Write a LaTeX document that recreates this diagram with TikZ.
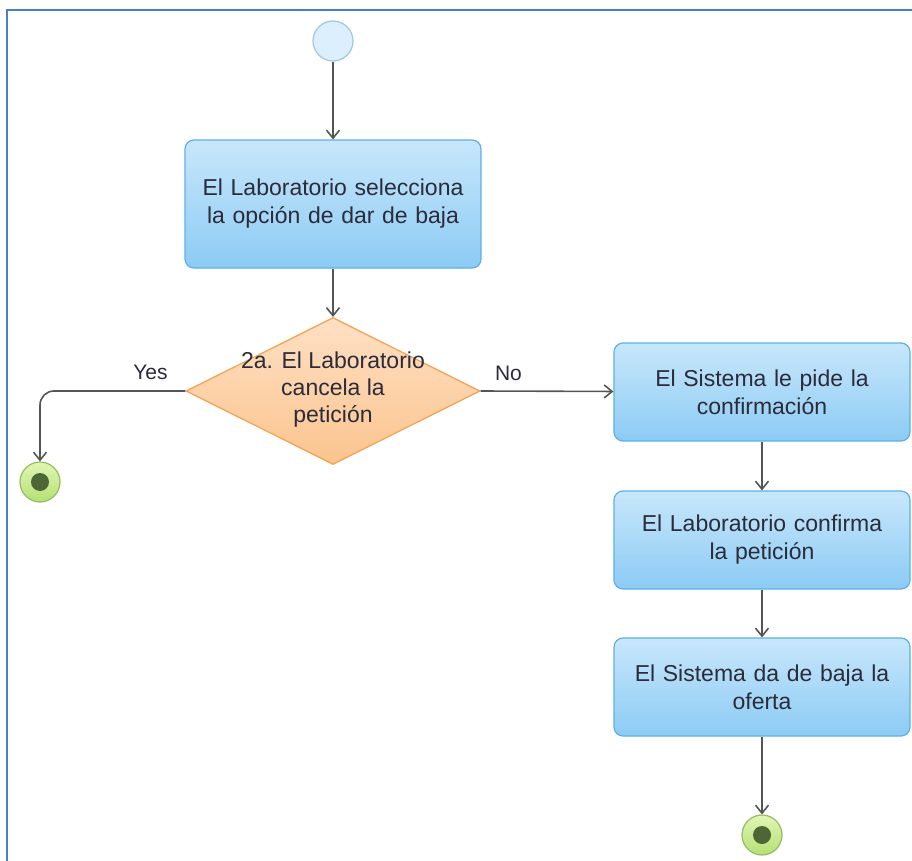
\documentclass[tikz,border=0pt]{standalone}
\usepackage{fontspec}
\setmainfont{Liberation Sans}
\usetikzlibrary{shapes.geometric,arrows.meta}
\definecolor{boxtop}{HTML}{C8E7FB}
\definecolor{boxbot}{HTML}{8CCBF4}
\definecolor{boxline}{HTML}{5CB0E8}
\definecolor{dectop}{HTML}{FEE0C4}
\definecolor{decbot}{HTML}{FBC48E}
\definecolor{decline}{HTML}{F4A04E}
\definecolor{startfill}{HTML}{DCEFFC}
\definecolor{startline}{HTML}{A2C6DE}
\definecolor{endtop}{HTML}{E0F6B4}
\definecolor{endbot}{HTML}{B6E074}
\definecolor{endline}{HTML}{94BC62}
\definecolor{enddot}{HTML}{4E6535}
\definecolor{flowline}{HTML}{555555}
\definecolor{txt}{HTML}{2B2B3A}
\definecolor{framecol}{HTML}{4A80C4}
\tikzset{
  action/.style={rectangle, rounded corners=9pt, draw=boxline, line width=1.2pt,
    top color=boxtop, bottom color=boxbot, minimum width=296pt, text width=284pt,
    align=center, inner sep=0pt, text=txt, font=\fontsize{23}{28}\selectfont},
  decision/.style={diamond, draw=decline, line width=1.2pt, top color=dectop,
    bottom color=decbot, minimum width=294pt, minimum height=147pt, inner sep=0pt},
  dectext/.style={align=center, text=txt, font=\fontsize{23}{27}\selectfont},
  startnode/.style={circle, draw=startline, line width=1.2pt, fill=startfill,
    minimum size=40pt, inner sep=0pt},
  endnode/.style={circle, draw=endline, line width=1.2pt, top color=endtop,
    bottom color=endbot, minimum size=40pt, inner sep=0pt,
    path picture={\fill[enddot] (path picture bounding box.center) circle (9pt);}},
  flow/.style={draw=flowline, line width=1.6pt, -{Straight Barb[length=8pt,width=13pt]}},
  guard/.style={text=txt, font=\fontsize{21}{25}\selectfont, inner sep=3pt}
}
\begin{document}
\begin{tikzpicture}[x=1pt,y=-1pt]
  \useasboundingbox (0,0) rectangle (912,861);
  % frame
  \draw[framecol, line width=2.6pt] (7,870) -- (7,10) -- (920,10);
  % nodes
  \node[startnode] (start) at (333,41) {};
  \node[action, minimum height=128pt] (select) at (333,204)
    {El Laboratorio selecciona\\la opción de dar de baja};
  \node[decision] (cancel) at (333,391) {};
  \node[dectext] (canceltext) at (333,390) {2a. El Laboratorio\\cancela la\\petición};
  \node[endnode] (endyes) at (40,482) {};
  \node[action, minimum height=98pt] (ask) at (762,392)
    {El Sistema le pide la\\confirmación};
  \node[action, minimum height=98pt] (confirm) at (762,540)
    {El Laboratorio confirma\\la petición};
  \node[action, minimum height=98pt] (remove) at (762,687)
    {El Sistema da de baja la\\oferta};
  \node[endnode] (endno) at (762,835) {};
  % connectors
  \draw[flow] (start) -- (select);
  \draw[flow] (select) -- (cancel);
  \draw[flow, rounded corners=14pt] (cancel.west) -| node[guard, pos=0.12, above=7pt] {Yes} (endyes);
  \draw[flow] (cancel.east) -- node[guard, pos=0.21, above=7pt] {No} (ask);
  \draw[flow] (ask) -- (confirm);
  \draw[flow] (confirm) -- (remove);
  \draw[flow] (remove) -- (endno);
\end{tikzpicture}
\end{document}
